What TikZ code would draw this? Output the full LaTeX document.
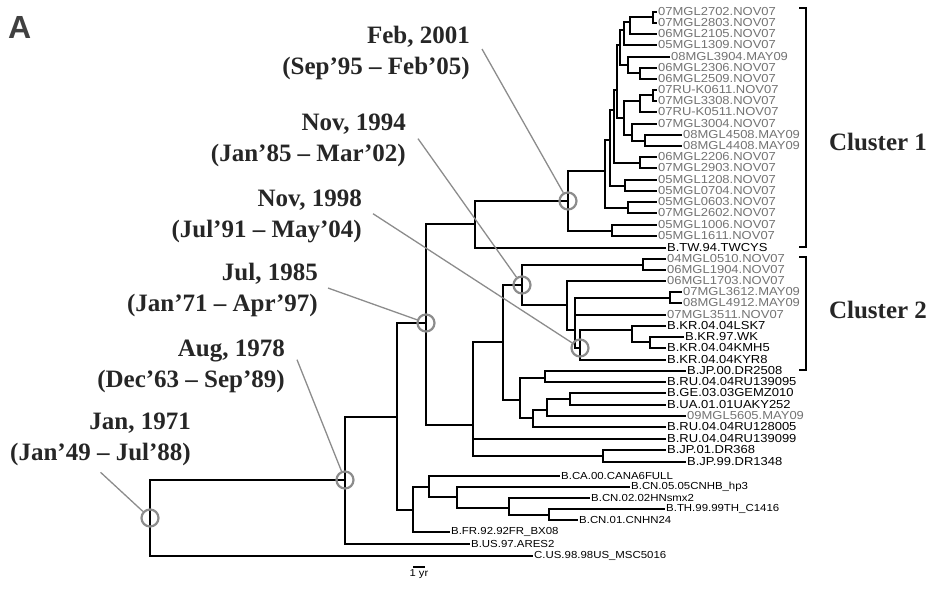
\documentclass[tikz,border=0pt]{standalone}
\usepackage{fontspec}
\setmainfont{Liberation Serif}
\newfontfamily\leaffont[FakeStretch=1.12]{Liberation Sans}
\newfontfamily\panelfont{Liberation Sans}
\usetikzlibrary{positioning}
\definecolor{ringgray}{gray}{0.55}
\definecolor{mglgray}{gray}{0.45}

\begin{document}
\begin{tikzpicture}[
    x=1pt, y=-1pt,
    br/.style={line width=1.9pt},
    brk/.style={line width=1.3pt},
    leaf/.style={anchor=west, inner sep=1pt, font=\leaffont\fontsize{11.6}{11.6}\selectfont},
    mgl/.style={leaf, text=mglgray},
    small/.style={leaf, font=\leaffont\fontsize{10.2}{10.2}\selectfont},
    tm/.style={circle, draw=ringgray, line width=2.2pt, minimum size=17pt, inner sep=0pt},
    tmtext/.style={anchor=north east, align=right, inner sep=0pt, text=black!85,
                   font=\bfseries\fontsize{25}{31}\selectfont},
    lead/.style={draw=ringgray, line width=1.3pt},
    clus/.style={inner sep=0pt, text=black!85, font=\bfseries\fontsize{25}{31}\selectfont},
]
\useasboundingbox (0,0) rectangle (946,593);

\node[anchor=north west, inner sep=0pt, text=black!75,
      font=\panelfont\bfseries\fontsize{32}{32}\selectfont] (pa) at (8,16) {A};

% leaves
\node[mgl]   (l1)  at (657, 12)  {07MGL2702.NOV07};
\node[mgl]   (l2)  at (657, 23)  {07MGL2803.NOV07};
\node[mgl]   (l3)  at (657, 34)  {06MGL2105.NOV07};
\node[mgl]   (l4)  at (657, 45)  {05MGL1309.NOV07};
\node[mgl]   (l5)  at (670, 57)  {08MGL3904.MAY09};
\node[mgl]   (l6)  at (657, 68)  {06MGL2306.NOV07};
\node[mgl]   (l7)  at (657, 79)  {06MGL2509.NOV07};
\node[mgl]   (l8)  at (657, 90)  {07RU-K0611.NOV07};
\node[mgl]   (l9)  at (657, 101) {07MGL3308.NOV07};
\node[mgl]   (l10) at (657, 112) {07RU-K0511.NOV07};
\node[mgl]   (l11) at (657, 124) {07MGL3004.NOV07};
\node[mgl]   (l12) at (682, 135) {08MGL4508.MAY09};
\node[mgl]   (l13) at (682, 146) {08MGL4408.MAY09};
\node[mgl]   (l14) at (657, 157) {06MGL2206.NOV07};
\node[mgl]   (l15) at (657, 168) {07MGL2903.NOV07};
\node[mgl]   (l16) at (657, 180) {05MGL1208.NOV07};
\node[mgl]   (l17) at (657, 191) {05MGL0704.NOV07};
\node[mgl]   (l18) at (657, 202) {05MGL0603.NOV07};
\node[mgl]   (l19) at (657, 213) {07MGL2602.NOV07};
\node[mgl]   (l20) at (657, 225) {05MGL1006.NOV07};
\node[mgl]   (l21) at (657, 236) {05MGL1611.NOV07};
\node[leaf]  (l22) at (666, 248) {B.TW.94.TWCYS};
\node[mgl]   (l23) at (666, 259) {04MGL0510.NOV07};
\node[mgl]   (l24) at (666, 270) {06MGL1904.NOV07};
\node[mgl]   (l25) at (666, 281) {06MGL1703.NOV07};
\node[mgl]   (l26) at (682, 292) {07MGL3612.MAY09};
\node[mgl]   (l27) at (682, 303) {08MGL4912.MAY09};
\node[mgl]   (l28) at (666, 315) {07MGL3511.NOV07};
\node[leaf]  (l29) at (666, 326) {B.KR.04.04LSK7};
\node[leaf]  (l30) at (684, 337) {B.KR.97.WK};
\node[leaf]  (l31) at (666, 348) {B.KR.04.04KMH5};
\node[leaf]  (l32) at (666, 360) {B.KR.04.04KYR8};
\node[leaf]  (l33) at (686, 371) {B.JP.00.DR2508};
\node[leaf]  (l34) at (666, 382) {B.RU.04.04RU139095};
\node[leaf]  (l35) at (666, 393) {B.GE.03.03GEMZ010};
\node[leaf]  (l36) at (666, 405) {B.UA.01.01UAKY252};
\node[mgl]   (l37) at (686, 416) {09MGL5605.MAY09};
\node[leaf]  (l38) at (666, 427) {B.RU.04.04RU128005};
\node[leaf]  (l39) at (666, 439) {B.RU.04.04RU139099};
\node[leaf]  (l40) at (666, 450) {B.JP.01.DR368};
\node[leaf]  (l41) at (686, 462) {B.JP.99.DR1348};
\node[small] (l42) at (560, 476) {B.CA.00.CANA6FULL};
\node[small] (l43) at (630, 487) {B.CN.05.05CNHB\_hp3};
\node[small] (l44) at (590, 498) {B.CN.02.02HNsmx2};
\node[small] (l45) at (665, 509) {B.TH.99.99TH\_C1416};
\node[small] (l46) at (578, 520) {B.CN.01.CNHN24};
\node[small] (l47) at (450, 532) {B.FR.92.92FR\_BX08};
\node[small] (l48) at (470, 544) {B.US.97.ARES2};
\node[small] (l49) at (533, 556) {C.US.98.98US\_MSC5016};

% internal nodes
\coordinate (t71)   at (150, 518);
\coordinate (t78)   at (345, 480);
\coordinate (c141)  at (397, 417);
\coordinate (t85)   at (426, 323);
\coordinate (c122)  at (475, 224);
\coordinate (t01)   at (568, 201);
\coordinate (c119)  at (605, 171);
\coordinate (c117)  at (610, 140);
\coordinate (c115)  at (614, 110);
\coordinate (c113)  at (617, 90);
\coordinate (c17)   at (620, 45);
\coordinate (c14)   at (624, 30);
\coordinate (c13)   at (630, 22);
\coordinate (c12)   at (653, 17);
\coordinate (c57)   at (628, 65);
\coordinate (c67)   at (640, 73);
\coordinate (c813)  at (624, 118);
\coordinate (c810)  at (640, 101);
\coordinate (c89)   at (653, 95);
\coordinate (c1113) at (632, 135);
\coordinate (c1213) at (645, 141);
\coordinate (c1415) at (640, 163);
\coordinate (c1617) at (625, 186);
\coordinate (c1819) at (628, 208);
\coordinate (c2021) at (612, 231);
\coordinate (c2341) at (473, 425);
\coordinate (c2338) at (503, 342);
\coordinate (t94)   at (522, 285);
\coordinate (c2324) at (643, 265);
\coordinate (c2532) at (567, 305);
\coordinate (c2632) at (575, 330);
\coordinate (c2627) at (670, 298);
\coordinate (t98)   at (580, 348);
\coordinate (c2931) at (632, 330);
\coordinate (c3031) at (650, 342);
\coordinate (c3338) at (520, 400);
\coordinate (c3334) at (545, 378);
\coordinate (c3538) at (533, 418);
\coordinate (c3537) at (547, 410);
\coordinate (c3536) at (570, 399);
\coordinate (c4041) at (603, 456);
\coordinate (c4247) at (413, 510);
\coordinate (c4246) at (429, 487);
\coordinate (c4346) at (457, 497);
\coordinate (c4446) at (509, 508);
\coordinate (c4546) at (549, 515);

% branches
\draw[br] (t71) |- (t78) (t71) |- (l49.west);
\draw[br] (t78) |- (c141) (t78) |- (l48.west);
\draw[br] (c141) |- (t85) (c141) |- (c4247);
\draw[br] (t85) |- (c122) (t85) |- (c2341);
\draw[br] (c122) |- (t01) (c122) |- (l22.west);
\draw[br] (t01) |- (c119) (t01) |- (c2021);
\draw[br] (c2021) |- (l20.west) (c2021) |- (l21.west);
\draw[br] (c119) |- (c117) (c119) |- (c1819);
\draw[br] (c117) |- (c115) (c117) |- (c1617);
\draw[br] (c115) |- (c113) (c115) |- (c1415);
\draw[br] (c113) |- (c17) (c113) |- (c813);
\draw[br] (c17) |- (c14) (c17) |- (c57);
\draw[br] (c14) |- (c13) (c14) |- (l4.west);
\draw[br] (c13) |- (c12) (c13) |- (l3.west);
\draw[br] (c12) |- (l1.west) (c12) |- (l2.west);
\draw[br] (c57) |- (l5.west) (c57) |- (c67);
\draw[br] (c67) |- (l6.west) (c67) |- (l7.west);
\draw[br] (c813) |- (c810) (c813) |- (c1113);
\draw[br] (c810) |- (c89) (c810) |- (l10.west);
\draw[br] (c89) |- (l8.west) (c89) |- (l9.west);
\draw[br] (c1113) |- (l11.west) (c1113) |- (c1213);
\draw[br] (c1213) |- (l12.west) (c1213) |- (l13.west);
\draw[br] (c1415) |- (l14.west) (c1415) |- (l15.west);
\draw[br] (c1617) |- (l16.west) (c1617) |- (l17.west);
\draw[br] (c1819) |- (l18.west) (c1819) |- (l19.west);
\draw[br] (c2341) |- (c2338) (c2341) |- (l39.west) (c2341) |- (c4041);
\draw[br] (c4041) |- (l40.west) (c4041) |- (l41.west);
\draw[br] (c2338) |- (t94) (c2338) |- (c3338);
\draw[br] (t94) |- (c2324) (t94) |- (c2532);
\draw[br] (c2324) |- (l23.west) (c2324) |- (l24.west);
\draw[br] (c2532) |- (l25.west) (c2532) |- (c2632);
\draw[br] (c2632) |- (c2627) (c2632) |- (l28.west) (c2632) |- (t98);
\draw[br] (c2627) |- (l26.west) (c2627) |- (l27.west);
\draw[br] (t98) |- (c2931) (t98) |- (l32.west);
\draw[br] (c2931) |- (l29.west) (c2931) |- (c3031);
\draw[br] (c3031) |- (l30.west) (c3031) |- (l31.west);
\draw[br] (c3338) |- (c3334) (c3338) |- (c3538);
\draw[br] (c3334) |- (l33.west) (c3334) |- (l34.west);
\draw[br] (c3538) |- (c3537) (c3538) |- (l38.west);
\draw[br] (c3537) |- (c3536) (c3537) |- (l37.west);
\draw[br] (c3536) |- (l35.west) (c3536) |- (l36.west);
\draw[br] (c4247) |- (c4246) (c4247) |- (l47.west);
\draw[br] (c4246) |- (l42.west) (c4246) |- (c4346);
\draw[br] (c4346) |- (l43.west) (c4346) |- (c4446);
\draw[br] (c4446) |- (l44.west) (c4446) |- (c4546);
\draw[br] (c4546) |- (l45.west) (c4546) |- (l46.west);

% dated nodes
\node[tm] (k71) at (t71) {};
\node[tm] (k78) at (t78) {};
\node[tm] (k85) at (t85) {};
\node[tm] (k94) at (t94) {};
\node[tm] (k98) at (t98) {};
\node[tm] (k01) at (t01) {};

\node[tmtext] (a01) at (470, 26)  {Feb, 2001\\(Sep’95 – Feb’05)};
\node[tmtext] (a94) at (406, 114) {Nov, 1994\\(Jan’85 – Mar’02)};
\node[tmtext] (a98) at (362, 190) {Nov, 1998\\(Jul’91 – May’04)};
\node[tmtext] (a85) at (318, 263) {Jul, 1985\\(Jan’71 – Apr’97)};
\node[tmtext] (a78) at (285, 340) {Aug, 1978\\(Dec’63 – Sep’89)};
\node[tmtext] (a71) at (191, 413) {Jan, 1971\\(Jan’49 – Jul’88)};

\draw[lead] ([xshift=12pt,yshift=4pt]a01.east) -- (k01);
\draw[lead] ([xshift=12pt,yshift=2pt]a94.east) -- (k94);
\draw[lead] ([xshift=11pt,yshift=3pt]a98.east) -- (k98);
\draw[lead] ([xshift=10pt,yshift=2pt]a85.east) -- (k85);
\draw[lead] ([xshift=12pt,yshift=7pt]a78.east) -- (k78);
\draw[lead] ([yshift=-6pt]a71.south) -- (k71);

% clusters
\coordinate (k1t) at (806, 8);
\coordinate (k1b) at (806, 247);
\coordinate (k2t) at (806, 257);
\coordinate (k2b) at (806, 370);
\draw[brk] ([xshift=-7pt]k1t) -- (k1t) -- (k1b) -- ([xshift=-7pt]k1b);
\draw[brk] ([xshift=-7pt]k2t) -- (k2t) -- (k2b) -- ([xshift=-7pt]k2b);
\node[clus] (cl1) at (878, 142) {Cluster 1};
\node[clus] (cl2) at (878, 310) {Cluster 2};

% scale
\coordinate (sbl) at (413, 567);
\coordinate (sbr) at (425, 567);
\draw[br, line width=1.2pt] (sbl) -- (sbr);
\path (sbl) -- (sbr) coordinate[midway] (sbm);
\node[below=1pt of sbm, inner sep=1pt, font=\leaffont\fontsize{10}{10}\selectfont] (yr) {1 yr};

\end{tikzpicture}
\end{document}
